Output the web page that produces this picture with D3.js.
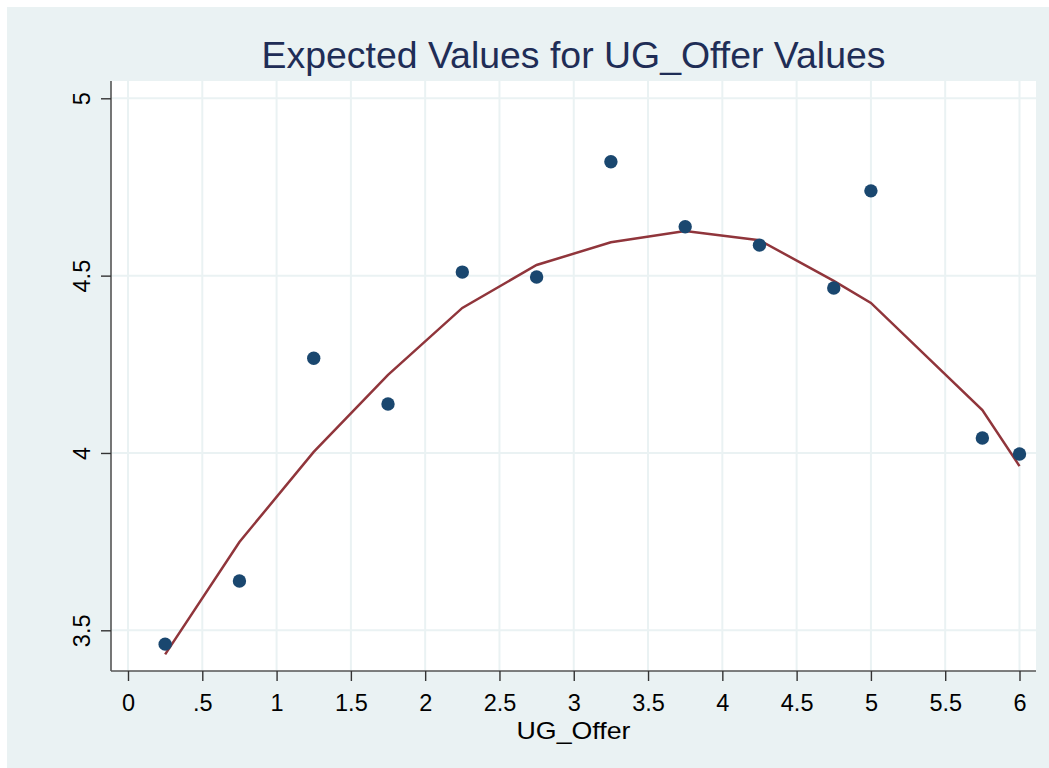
<!DOCTYPE html>
<html><head><meta charset="utf-8">
<script src="https://cdn.jsdelivr.net/npm/d3@7"></script>
<style>html,body{margin:0;padding:0;background:#fff;}svg{display:block;font-family:"Liberation Sans",Arial,sans-serif;}</style>
</head><body>
<script>
const xs = [0.25,0.75,1.25,1.75,2.25,2.75,3.25,3.75,4.25,4.75,5,5.75,6];
const observed = [3.461,3.639,4.267,4.138,4.510,4.496,4.821,4.638,4.586,4.465,4.739,4.042,3.997];
const fitted = [3.432,3.749,4.003,4.220,4.409,4.530,4.594,4.626,4.600,4.485,4.423,4.121,3.963];
const xTicks = [0,0.5,1,1.5,2,2.5,3,3.5,4,4.5,5,5.5,6];
const yTicks = [3.5,4,4.5,5];
const titleText = "Expected Values for UG_Offer Values";
const xLabel = "UG_Offer";

const W=1049,H=768;
const svg=d3.select("body").append("svg").attr("width",W).attr("height",H);
svg.append("rect").attr("x",7).attr("y",7).attr("width",W-7).attr("height",H-7).attr("fill","#EAF2F3");
const P={l:111,r:1036,t:81,b:671};
svg.append("rect").attr("x",P.l).attr("y",P.t).attr("width",P.r-P.l).attr("height",P.b-P.t).attr("fill","#fff");
const x=d3.scaleLinear().domain([0,6]).range([128,1019.5]);
const y=d3.scaleLinear().domain([3.5,5]).range([630.3,98.3]);
const fmt=d=>{let s=String(d); return s.startsWith("0.")?s.slice(1):s;};
// grid
svg.append("g").selectAll("line").data(xTicks).join("line")
 .attr("x1",d=>x(d)).attr("x2",d=>x(d)).attr("y1",P.t).attr("y2",P.b)
 .attr("stroke","#EAF2F3").attr("stroke-width",2);
svg.append("g").selectAll("line").data(yTicks).join("line")
 .attr("y1",d=>y(d)).attr("y2",d=>y(d)).attr("x1",P.l).attr("x2",P.r)
 .attr("stroke","#EAF2F3").attr("stroke-width",2);
// axes
const xAxis=svg.append("g").attr("transform",`translate(0,${P.b})`)
 .call(d3.axisBottom(x).tickValues(xTicks).tickFormat(fmt).tickSize(10).tickPadding(13).tickSizeOuter(0));
xAxis.select(".domain").attr("d",`M${P.l},0H${P.r}`);
const yAxis=svg.append("g").attr("transform",`translate(${P.l},0)`)
 .call(d3.axisLeft(y).tickValues(yTicks).tickFormat(fmt).tickSize(10).tickSizeOuter(0));
yAxis.select(".domain").attr("d",`M0,${P.t}V${P.b}`);
[xAxis,yAxis].forEach(g=>{
 g.select(".domain").attr("stroke","#555").attr("stroke-width",1.6);
 g.selectAll(".tick line").attr("stroke","#333").attr("stroke-width",1.4);
 g.selectAll("text").attr("fill","#000").attr("font-size",23.5).attr("font-family","Liberation Sans, Arial, sans-serif");
});
yAxis.selectAll(".tick text").attr("x",null).attr("dy",null).attr("text-anchor","middle")
 .attr("transform","translate(-21,0) rotate(-90)");
// line
svg.append("path").datum(xs.map((v,i)=>[v,fitted[i]]))
 .attr("d",d3.line().x(d=>x(d[0])).y(d=>y(d[1])))
 .attr("fill","none").attr("stroke","#90353B").attr("stroke-width",2.5);
// points
svg.append("g").selectAll("circle").data(xs.map((v,i)=>[v,observed[i]])).join("circle")
 .attr("cx",d=>x(d[0])).attr("cy",d=>y(d[1])).attr("r",6.7).attr("fill","#1A476F");
// title
svg.append("text").attr("x",(P.l+P.r)/2).attr("y",68).attr("text-anchor","middle")
 .attr("font-size",36).attr("fill","#1F2D56")
 .attr("textLength",624).attr("lengthAdjust","spacingAndGlyphs").text(titleText);
svg.append("text").attr("x",(P.l+P.r)/2).attr("y",739).attr("text-anchor","middle")
 .attr("font-size",24).attr("fill","#000")
 .attr("textLength",114).attr("lengthAdjust","spacingAndGlyphs").text(xLabel);
</script>
</body></html>
